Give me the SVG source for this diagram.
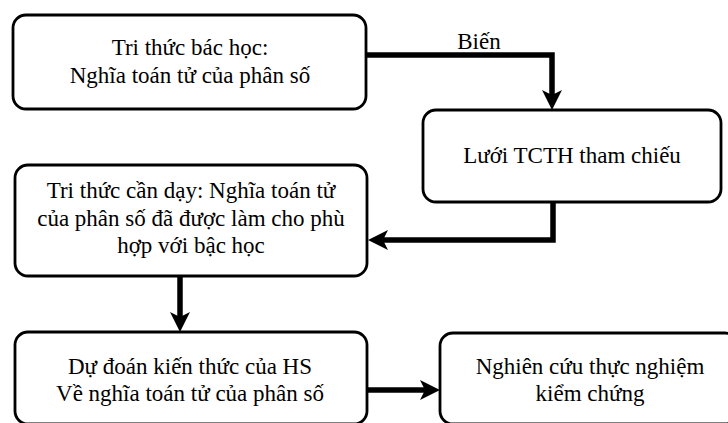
<svg xmlns="http://www.w3.org/2000/svg" width="728" height="423" viewBox="0 0 728 423">
<style>
.box{fill:#fff;stroke:#000;stroke-width:2.8}
.t{font-family:'Liberation Serif','Times New Roman',serif;font-size:23px;fill:#000;text-anchor:middle}
.c{fill:none;stroke:#000;stroke-width:5.5;stroke-linejoin:miter}
</style>
<defs>
<marker id="ah" markerUnits="userSpaceOnUse" viewBox="0 0 20 20" markerWidth="20" markerHeight="20" refX="12" refY="10" orient="auto">
<path d="M0,0 L20,10 L0,20 L5,10 Z" fill="#000"/>
</marker>
</defs>
<rect width="728" height="423" fill="#fff"/>
<g id="connectors">
<path class="c" d="M366,55 H552 V102" marker-end="url(#ah)"/>
<text class="t" x="479" y="49">Biến</text>
<path class="c" d="M553,202 V240 H376" marker-end="url(#ah)"/>
<path class="c" d="M180,277 V324" marker-end="url(#ah)"/>
<path class="c" d="M367,390 H432" marker-end="url(#ah)"/>
</g>
<g id="n1">
<rect class="box" x="13" y="15" width="353" height="94" rx="13"/>
<text class="t" x="190" y="55">Tri thức bác học:</text>
<text class="t" x="190" y="83">Nghĩa toán tử của phân số</text>
</g>
<g id="n2">
<rect class="box" x="423" y="110" width="298" height="92" rx="13"/>
<text class="t" x="572" y="163">Lưới TCTH tham chiếu</text>
</g>
<g id="n3">
<rect class="box" x="15" y="165" width="352" height="111" rx="13"/>
<text class="t" x="191" y="198">Tri thức cần dạy: Nghĩa toán tử</text>
<text class="t" x="191" y="226">của phân số đã được làm cho phù</text>
<text class="t" x="191" y="253">hợp với bậc học</text>
</g>
<g id="n4">
<rect class="box" x="15" y="332" width="352" height="92" rx="13"/>
<text class="t" x="190" y="374">Dự đoán kiến thức của HS</text>
<text class="t" x="190" y="401">Về nghĩa toán tử của phân số</text>
</g>
<g id="n5">
<rect class="box" x="440" y="333" width="298" height="91" rx="13"/>
<text class="t" x="590" y="374">Nghiên cứu thực nghiệm</text>
<text class="t" x="590" y="401">kiểm chứng</text>
</g>
</svg>
